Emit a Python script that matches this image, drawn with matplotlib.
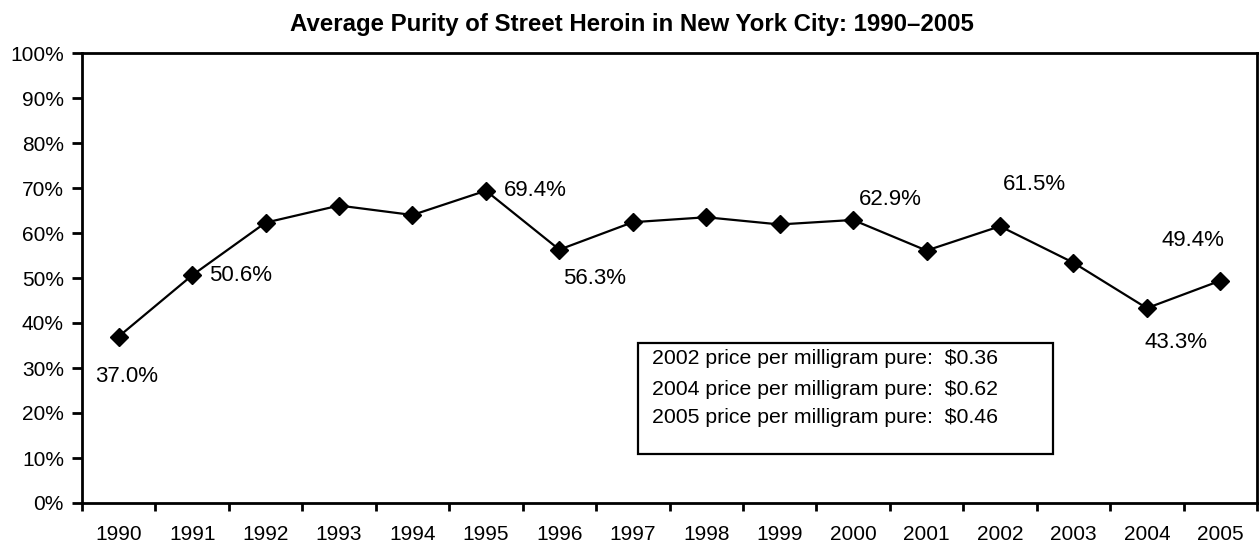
import matplotlib; matplotlib.use('Agg')
import matplotlib.pyplot as plt
from matplotlib.patches import Rectangle
from matplotlib.ticker import FixedLocator, PercentFormatter

plt.rcParams.update({
    'font.family': ['Liberation Sans', 'DejaVu Sans'],
    'axes.linewidth': 2,
})

years = ['1990', '1991', '1992', '1993', '1994', '1995', '1996', '1997',
         '1998', '1999', '2000', '2001', '2002', '2003', '2004', '2005']
purity = [37.0, 50.6, 62.3, 66.1, 64.0, 69.4, 56.3, 62.4,
          63.5, 61.9, 62.9, 56.1, 61.5, 53.4, 43.3, 49.4]

# which points get a value label, and where (offset in points)
labelled = {'1990': (6, -29), '1991': (12, 0), '1995': (13, 0), '1996': (25, -21),
            '2000': (27, 15), '2002': (25, 30), '2004': (21, -25), '2005': (-20, 29)}
label_align = {'1991': 'left', '1995': 'left'}

price_notes = ['2002 price per milligram pure:  $0.36',
               '2004 price per milligram pure:  $0.62',
               '2005 price per milligram pure:  $0.46']

W, H = 1259, 544
fig = plt.figure(figsize=(W / 100, H / 100), dpi=100)
ax = fig.add_axes([82 / W, (H - 503) / H, (1257 - 82) / W, (503 - 53) / H])

x = list(range(len(years)))
ax.plot(x, purity, color='black', lw=1.6, marker='D', ms=8.8, mfc='black', mec='black')

for i, (yr, v) in enumerate(zip(years, purity)):
    if yr in labelled:
        ha = label_align.get(yr, 'center')
        ax.annotate(f'{v:.1f}%', xy=(i, v), xytext=labelled[yr], textcoords='offset points',
                    ha=ha, va='center', fontsize=16)

ax.set_xlim(-0.5, len(years) - 0.5)
ax.set_ylim(0, 100)
ax.set_xticks(x)
ax.set_xticklabels(years)
ax.xaxis.set_minor_locator(FixedLocator([i - 0.5 for i in range(len(years) + 1)]))
ax.tick_params(axis='x', which='major', length=0, pad=16, labelsize=15)
ax.tick_params(axis='x', which='minor', length=6, width=2, direction='out')
ax.set_yticks(range(0, 101, 10))
ax.yaxis.set_major_formatter(PercentFormatter(decimals=0))
ax.tick_params(axis='y', length=7, width=2, direction='out', pad=6, labelsize=15)

# price box
ax.add_patch(Rectangle((0.473, 0.109), 0.353, 0.247, transform=ax.transAxes,
                       fill=False, lw=1.6, ec='black'))
for note, yy in zip(price_notes, [0.322, 0.253, 0.189]):
    ax.text(0.485, yy, note, transform=ax.transAxes, ha='left', va='center', fontsize=15.3)

fig.text(0.502, 1 - 24 / H, 'Average Purity of Street Heroin in New York City: 1990\u20132005',
         ha='center', va='center', fontsize=17.3, fontweight='bold')

fig.savefig('out.png', dpi=100)
